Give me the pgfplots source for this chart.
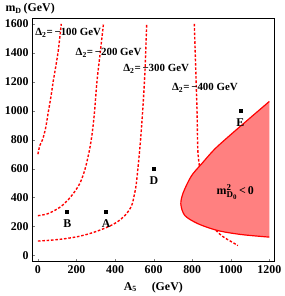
\documentclass[border=0pt]{standalone}
\usepackage{pgfplots}
\pgfplotsset{compat=1.18}
\usetikzlibrary{calc}
\usepackage{fontspec}
\setmainfont{Liberation Serif}
\definecolor{regfill}{RGB}{255,128,128}
\begin{document}
\begin{tikzpicture}
\begin{axis}[
  scale only axis, width=243.7bp, height=243.7bp,
  xmin=-30, xmax=1227, ymin=-40, ymax=1634,
  xtick={0,200,...,1200}, ytick={0,200,...,1600},
  tick pos=left, tick align=inside, major tick length=2.5pt,
  axis line style={line width=0.9pt},
  /pgf/number format/assume math mode=true,
  /pgf/number format/1000 sep={},
  ticklabel style={font=\bfseries\fontsize{12}{12}\selectfont},
  xticklabel style={yshift=-1pt},
  clip=false,
]
% Delta curves
\addplot[red, dash pattern=on 2.6pt off 1.8pt, line width=1.4pt, smooth] coordinates {
(0,700)(10,760)(24,800)(40,880)(55,1000)(68,1100)(79,1200)(92,1300)(104,1400)(113,1500)(121,1600)};
\addplot[red, dash pattern=on 2.6pt off 1.8pt, line width=1.4pt, smooth] coordinates {
(0,275)(50,288)(101,322)(130,350)(160,390)(190,440)(220,505)(245,600)(268,733)(282,850)(294,1000)(306,1200)(323,1400)(340,1600)};
\addplot[red, dash pattern=on 2.6pt off 1.8pt, line width=1.4pt, smooth] coordinates {
(0,100)(50,104)(100,110)(150,118)(205,130)(260,148)(300,165)(340,185)(390,215)(425,245)(460,290)(486,345)(500,420)(511,505)(528,733)(538,900)(548,1100)(556,1300)(564,1600)};
\addplot[red, dash pattern=on 2.6pt off 1.8pt, line width=1.4pt, smooth] coordinates {
(811,1600)(818,1300)(825,1000)(829,733)(837,620)(850,480)(870,330)(895,240)(925,172)(960,130)(1000,98)(1037,69)};
% region
\addplot[fill=regfill, draw=none, smooth] coordinates {
(1200,1064)(1100,950)(1000,835)(916,734)(850,635)(796,550)(754,436)(741,356)(762,276)(831,219)(934,172)(1054,145)(1200,127)} -- cycle;
\addplot[red, line width=1.2pt, smooth] coordinates {
(1200,1064)(1100,950)(1000,835)(916,734)(850,635)(796,550)(754,436)(741,356)(762,276)(831,219)(934,172)(1054,145)(1200,127)};
% points
\addplot[only marks, mark=square*, mark size=1.4pt, black] coordinates {(150,300)(350,300)(600,600)(1050,1000)};
\node[font=\bfseries\fontsize{12}{12}\selectfont] at (axis cs:152,218) {B};
\node[font=\bfseries\fontsize{12}{12}\selectfont] at (axis cs:354,218) {A};
\node[font=\bfseries\fontsize{12}{12}\selectfont] at (axis cs:602,518) {D};
\node[font=\bfseries\fontsize{12}{12}\selectfont] at (axis cs:1050,918) {E};
% labels
\node[font=\bfseries\fontsize{11}{12}\selectfont, anchor=west, inner sep=0pt] at (axis cs:-14,1536) {Δ\textsubscript{2}=\,−100 GeV};
\node[font=\bfseries\fontsize{11}{12}\selectfont, anchor=west, inner sep=0pt] at (axis cs:195,1398) {Δ\textsubscript{2}=\,−200 GeV};
\node[font=\bfseries\fontsize{11}{12}\selectfont, anchor=west, inner sep=0pt] at (axis cs:442,1291) {Δ\textsubscript{2}=\,−300 GeV};
\node[font=\bfseries\fontsize{11}{12}\selectfont, anchor=west, inner sep=0pt] at (axis cs:695,1158) {Δ\textsubscript{2}=\,−400 GeV};
\node[font=\bfseries\fontsize{12}{12}\selectfont] at (axis cs:1023,438) {m$_{\hbox{\fontsize{9}{9}\selectfont D\raisebox{-1.5pt}{\fontsize{7}{7}\selectfont 0}}}^{\hbox{\fontsize{9}{9}\selectfont 2}}$\,<\,0};
\node[font=\bfseries\fontsize{12}{12}\selectfont, anchor=base west] at (rel axis cs:-0.124,1.03) {m\textsubscript{D}\,(GeV)};
\node[font=\bfseries\fontsize{12}{12}\selectfont, anchor=base] at (rel axis cs:0.5,-0.119) {A\textsubscript{5}\quad\ (GeV)};
\end{axis}
\path (current axis.south west) ++(-32.3bp,-33.3bp) rectangle ($(current axis.north east)+(8bp,19bp)$);
\end{tikzpicture}
\end{document}
